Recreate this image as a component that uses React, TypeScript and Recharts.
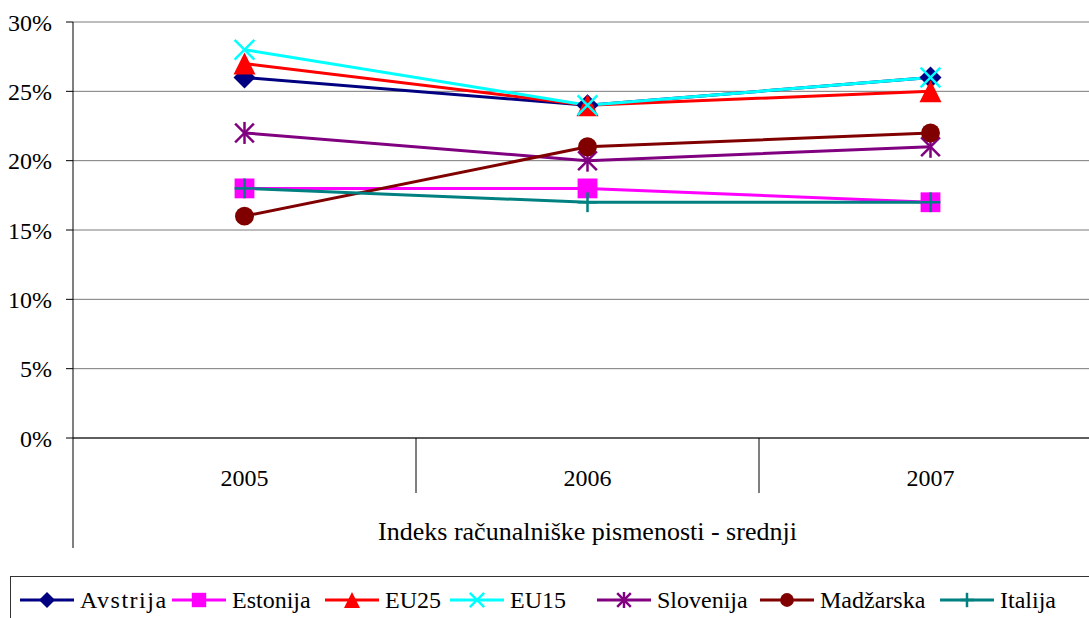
import React from "react";
import { LineChart, Line, XAxis, YAxis, CartesianGrid } from "recharts";

const YEARS = ["2005", "2006", "2007"];
const AVSTRIJA = [26, 24, 26];
const ESTONIJA = [18, 18, 17];
const EU25 = [27, 24, 25];
const EU15 = [28, 24, 26];
const SLOVENIJA = [22, 20, 21];
const MADZARSKA = [16, 21, 22];
const ITALIJA = [18, 17, 17];
const Y_TICKS = [0, 5, 10, 15, 20, 25, 30];
const AXIS_TITLE = "Indeks računalniške pismenosti - srednji";

type Shape = "diamond" | "square" | "triangle" | "x" | "star" | "circle" | "plus";

const SERIES: { key: string; name: string; values: number[]; color: string; shape: Shape }[] = [
  { key: "avstrija", name: "Avstrija", values: AVSTRIJA, color: "#000080", shape: "diamond" },
  { key: "estonija", name: "Estonija", values: ESTONIJA, color: "#FF00FF", shape: "square" },
  { key: "eu25", name: "EU25", values: EU25, color: "#FF0000", shape: "triangle" },
  { key: "eu15", name: "EU15", values: EU15, color: "#00FFFF", shape: "x" },
  { key: "slovenija", name: "Slovenija", values: SLOVENIJA, color: "#800080", shape: "star" },
  { key: "madzarska", name: "Madžarska", values: MADZARSKA, color: "#800000", shape: "circle" },
  { key: "italija", name: "Italija", values: ITALIJA, color: "#008080", shape: "plus" },
];

const data = YEARS.map((year, i) => {
  const row: Record<string, string | number> = { year };
  SERIES.forEach((s) => (row[s.key] = s.values[i]));
  return row;
});

const FONT = "Liberation Serif, Tinos, DejaVu Serif, Noto Serif, serif";
const CHART_W = 1110;
const PLOT_LEFT = 73;
const PLOT_RIGHT_MARGIN = 8;
const PLOT_W = CHART_W - PLOT_LEFT - PLOT_RIGHT_MARGIN;
const BAND = PLOT_W / YEARS.length;

const LEGEND_X = [20, 172, 325, 450, 597, 760, 940];

function Marker({ shape, color, cx, cy, s }: { shape: Shape; color: string; cx: number; cy: number; s: number }) {
  switch (shape) {
    case "diamond":
      return <polygon points={`${cx},${cy - s} ${cx + s},${cy} ${cx},${cy + s} ${cx - s},${cy}`} fill={color} />;
    case "square":
      return <rect x={cx - s * 0.9} y={cy - s * 0.9} width={s * 1.8} height={s * 1.8} fill={color} />;
    case "triangle":
      return <polygon points={`${cx},${cy - s} ${cx + s},${cy + s} ${cx - s},${cy + s}`} fill={color} />;
    case "circle":
      return <circle cx={cx} cy={cy} r={s * 0.86} fill={color} />;
    case "x": {
      const d = s * 0.9;
      return (
        <g stroke={color} strokeWidth={2.5}>
          <line x1={cx - d} y1={cy - d} x2={cx + d} y2={cy + d} />
          <line x1={cx - d} y1={cy + d} x2={cx + d} y2={cy - d} />
        </g>
      );
    }
    case "star": {
      const d = s * 0.85;
      return (
        <g stroke={color} strokeWidth={2.5}>
          <line x1={cx - d} y1={cy - d} x2={cx + d} y2={cy + d} />
          <line x1={cx - d} y1={cy + d} x2={cx + d} y2={cy - d} />
          <line x1={cx} y1={cy - s} x2={cx} y2={cy + s} />
        </g>
      );
    }
    case "plus":
      return (
        <g stroke={color} strokeWidth={2.5}>
          <line x1={cx - s * 0.9} y1={cy} x2={cx + s * 0.9} y2={cy} />
          <line x1={cx} y1={cy - s * 0.9} x2={cx} y2={cy + s * 0.9} />
        </g>
      );
  }
  return null;
}

function makeDot(shape: Shape, color: string) {
  return (props: any) => {
    const { cx, cy, index } = props;
    if (cx == null || cy == null) return <g key={`d-${index}`} />;
    return (
      <g key={`d-${shape}-${index}`}>
        <Marker shape={shape} color={color} cx={cx} cy={cy} s={11} />
      </g>
    );
  };
}

function YearTick(props: any) {
  const { x, y, payload, index } = props;
  return (
    <g>
      <text x={x} y={y + 48} textAnchor="middle" style={{ fontFamily: FONT }} fontSize={24} fill="#000">
        {payload.value}
      </text>
      {index === 0 && <line x1={x - BAND / 2} y1={y} x2={x - BAND / 2} y2={y + 110} stroke="#000" strokeWidth={1} />}
      <line x1={x + BAND / 2} y1={y} x2={x + BAND / 2} y2={y + 55} stroke="#000" strokeWidth={1} />
    </g>
  );
}

function ChartLegend() {
  return (
    <div
      style={{
        position: "absolute",
        left: 10,
        top: 576,
        width: 1100,
        height: 48,
        border: "1px solid #333",
        boxSizing: "border-box",
      }}
    >
      {SERIES.map((s, i) => (
        <div
          key={s.key}
          style={{
            position: "absolute",
            left: LEGEND_X[i] - 11,
            top: 0,
            height: 46,
            display: "flex",
            alignItems: "center",
            whiteSpace: "nowrap",
          }}
        >
          <svg width={54} height={24} style={{ display: "block" }}>
            <line x1={0} y1={12} x2={54} y2={12} stroke={s.color} strokeWidth={3} />
            <Marker shape={s.shape} color={s.color} cx={27} cy={12} s={8} />
          </svg>
          <span
            style={{
              fontFamily: FONT,
              fontSize: 24,
              lineHeight: "24px",
              color: "#000",
              marginLeft: 6,
              letterSpacing: s.name === "Avstrija" ? 1.5 : 0,
            }}
          >
            {s.name}
          </span>
        </div>
      ))}
    </div>
  );
}

export default function App() {
  return (
    <div
      style={{
        position: "absolute",
        left: 0,
        top: 0,
        width: 1089,
        height: 618,
        overflow: "hidden",
        background: "#fff",
        fontFamily: FONT,
      }}
    >
      <LineChart
        width={CHART_W}
        height={618}
        data={data}
        margin={{ top: 22, right: PLOT_RIGHT_MARGIN, bottom: 70, left: 0 }}
        style={{ fontFamily: FONT }}
      >
        <CartesianGrid vertical={false} stroke="#7a7a7a" />
        <XAxis
          dataKey="year"
          scale="band"
          interval={0}
          height={110}
          tickLine={false}
          tickSize={0}
          tickMargin={0}
          axisLine={{ stroke: "#000" }}
          tick={<YearTick />}
          label={{ value: AXIS_TITLE, position: "insideBottom", offset: 8, fill: "#000", fontSize: 26 }}
        />
        <YAxis
          width={PLOT_LEFT}
          domain={[0, 30]}
          ticks={Y_TICKS}
          interval={0}
          tickFormatter={(v: number) => `${v}%`}
          tickSize={7}
          tickMargin={14}
          axisLine={{ stroke: "#000" }}
          tickLine={{ stroke: "#000" }}
          tick={{ fill: "#000", fontSize: 24 }}
        />
        {SERIES.map((s) => (
          <Line
            key={s.key}
            dataKey={s.key}
            name={s.name}
            type="linear"
            stroke={s.color}
            strokeWidth={3}
            dot={makeDot(s.shape, s.color)}
            activeDot={false}
            isAnimationActive={false}
          />
        ))}
      </LineChart>
      <ChartLegend />
    </div>
  );
}
